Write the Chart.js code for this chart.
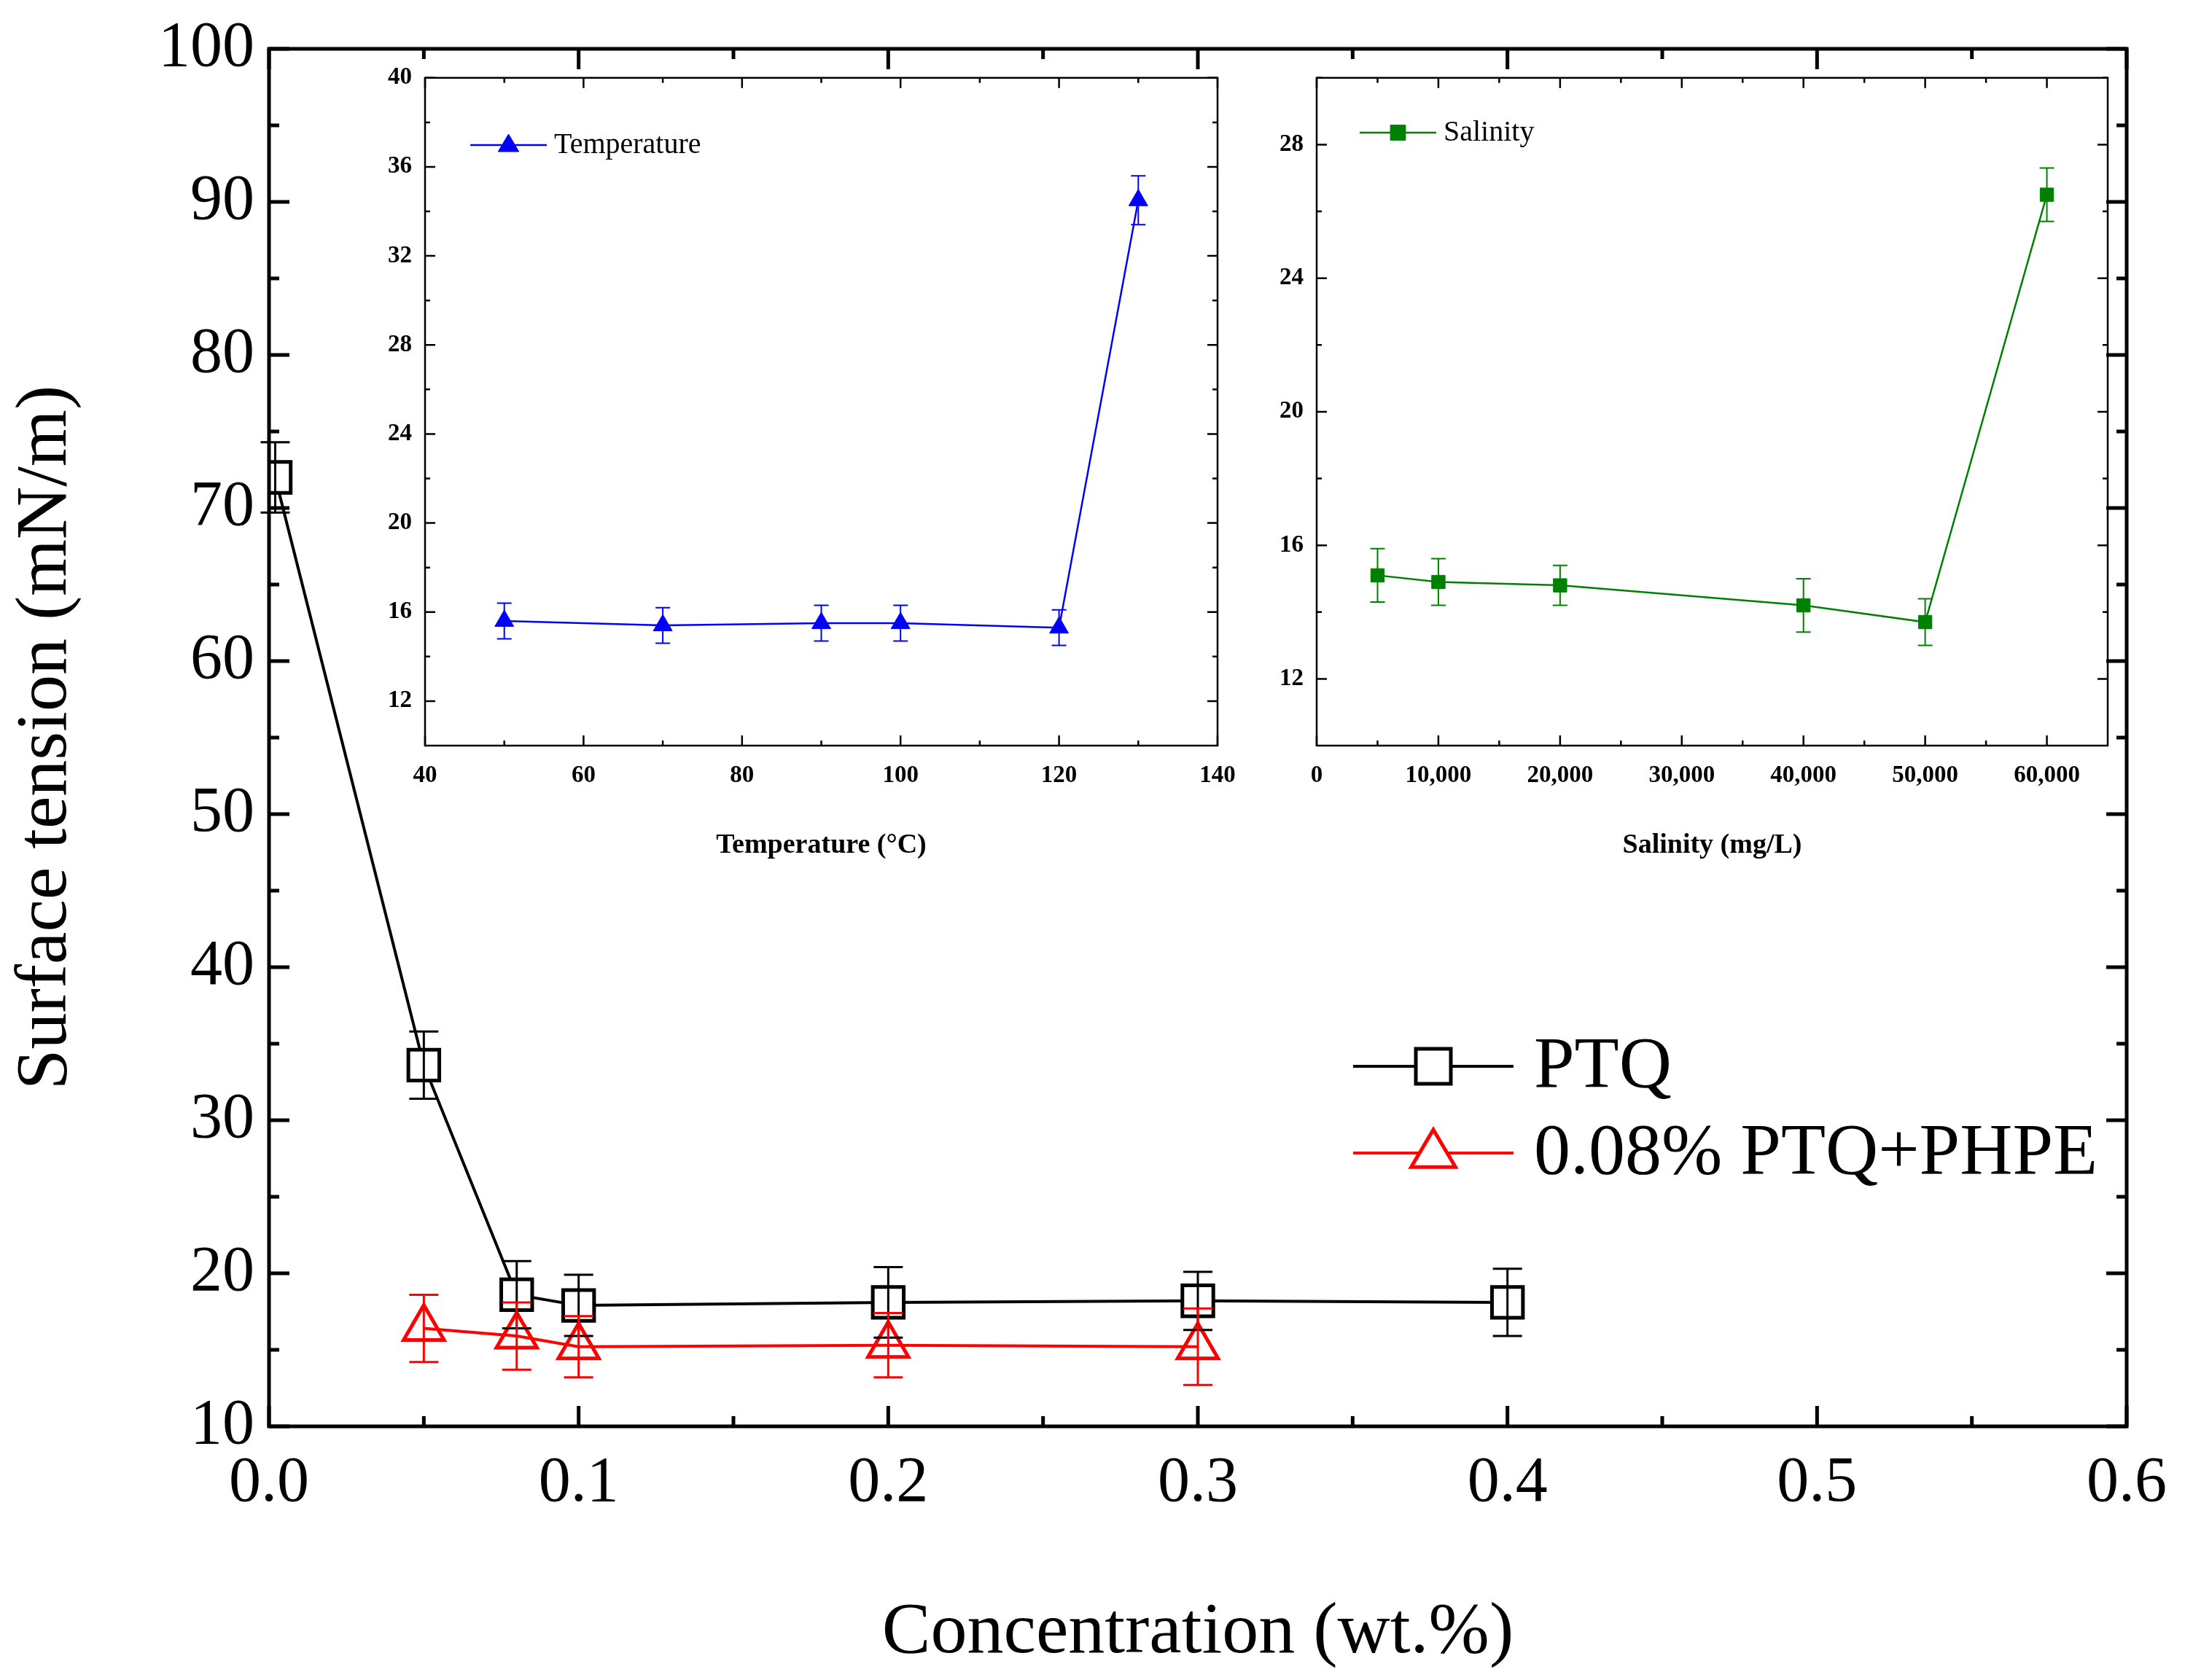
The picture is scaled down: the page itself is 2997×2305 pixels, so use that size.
<!DOCTYPE html>
<html><head><meta charset="utf-8">
<script src="https://cdn.jsdelivr.net/npm/chart.js@4/dist/chart.umd.min.js"></script>
<style>
body{margin:0;background:#fff;width:2997px;height:2305px;position:relative;overflow:hidden}
canvas{position:absolute}
</style></head><body>
<canvas id="main" width="2997" height="2305" style="left:0;top:0"></canvas>
<canvas id="temp" width="1215" height="1110" style="left:507px;top:77px"></canvas>
<canvas id="sal" width="1155" height="1110" style="left:1750px;top:77px"></canvas>
<script>
// main chart data
const concPTQ = [0.002, 0.05, 0.08, 0.1, 0.2, 0.3, 0.4]
const tensionPTQ = [72.0, 33.6, 18.6, 17.9, 18.1, 18.2, 18.1]
const errPTQ = [2.3, 2.2, 2.2, 2.0, 2.3, 1.9, 2.2]
const concMix = [0.05, 0.08, 0.1, 0.2, 0.3]
const tensionMix = [16.4, 15.9, 15.2, 15.3, 15.2]
const errMix = [2.2, 2.2, 2.0, 2.1, 2.5]
// temperature inset
const temps = [50, 70, 90, 100, 120, 130]
const tensionTemp = [15.6, 15.4, 15.5, 15.5, 15.3, 34.5]
const errTemp = [0.8, 0.8, 0.8, 0.8, 0.8, 1.1]
const tempTicksY = [12, 16, 20, 24, 28, 32, 36, 40]
// salinity inset
const salinity = [5000, 10000, 20000, 40000, 50000, 60000]
const tensionSal = [15.1, 14.9, 14.8, 14.2, 13.7, 26.5]
const errSal = [0.8, 0.7, 0.6, 0.8, 0.7, 0.8]
const salTicksY = [12, 16, 20, 24, 28]

const serif = 'Liberation Serif'

const pts = (xs, ys) => xs.map((x, i) => ({x: x, y: ys[i]}))

// frame + inward ticks
const framePlugin = {
    id: 'frame',
    afterDraw(chart, args, o) {
        const {ctx, chartArea: a, scales} = chart
        ctx.save()
        ctx.strokeStyle = '#000'
        ctx.lineWidth = o.width
        ctx.strokeRect(a.left, a.top, a.right - a.left, a.bottom - a.top)
        const xs = scales.x, ys = scales.y
        const tickX = (v, len) => {
            const p = xs.getPixelForValue(v)
            ctx.beginPath(); ctx.moveTo(p, a.bottom); ctx.lineTo(p, a.bottom - len)
            ctx.moveTo(p, a.top); ctx.lineTo(p, a.top + len); ctx.stroke()
        }
        const tickY = (v, len) => {
            const p = ys.getPixelForValue(v)
            ctx.beginPath(); ctx.moveTo(a.left, p); ctx.lineTo(a.left + len, p)
            ctx.moveTo(a.right, p); ctx.lineTo(a.right - len, p); ctx.stroke()
        }
        xs.ticks.forEach(t => tickX(t.value, o.len))
        ys.ticks.forEach(t => tickY(t.value, o.len))
        ;(o.minorX || []).forEach(v => tickX(v, o.len / 2))
        ;(o.minorY || []).forEach(v => tickY(v, o.len / 2))
        ctx.restore()
    }
}

// error bars from dataset.err
const errPlugin = {
    id: 'errbars',
    afterDatasetsDraw(chart, args, o) {
        const {ctx, scales} = chart
        ctx.save()
        chart.data.datasets.forEach(ds => {
            ctx.strokeStyle = ds.borderColor
            ctx.lineWidth = o.width
            ds.data.forEach((p, i) => {
                const x = scales.x.getPixelForValue(p.x)
                const y1 = scales.y.getPixelForValue(p.y + ds.err[i])
                const y2 = scales.y.getPixelForValue(p.y - ds.err[i])
                ctx.beginPath()
                ctx.moveTo(x, y1); ctx.lineTo(x, y2)
                ctx.moveTo(x - o.cap, y1); ctx.lineTo(x + o.cap, y1)
                ctx.moveTo(x - o.cap, y2); ctx.lineTo(x + o.cap, y2)
                ctx.stroke()
            })
        })
        ctx.restore()
    }
}

function marker(ctx, style, x, y, r, color, fill) {
    ctx.beginPath()
    if (style === 'rect') {
        ctx.rect(x - r * 0.8, y - r * 0.8, r * 1.6, r * 1.6)
    } else {
        ctx.moveTo(x, y - r); ctx.lineTo(x + r * 0.95, y + r * 0.6); ctx.lineTo(x - r * 0.95, y + r * 0.6); ctx.closePath()
    }
    if (fill) { ctx.fillStyle = color; ctx.fill() }
    else { ctx.fillStyle = '#fff'; ctx.fill() }
    ctx.strokeStyle = color; ctx.stroke()
}

const legPlugin = {
    id: 'leg',
    afterDraw(chart, args, o) {
        const ctx = chart.ctx
        ctx.save()
        chart.data.datasets.forEach((ds, i) => {
            const y = o.y + i * o.gap
            ctx.strokeStyle = ds.borderColor
            ctx.lineWidth = ds.borderWidth
            ctx.beginPath(); ctx.moveTo(o.x, y); ctx.lineTo(o.x + o.w, y); ctx.stroke()
            ctx.lineWidth = o.mw
            marker(ctx, ds.pointStyle, o.x + o.w / 2, y, ds.pointRadius, ds.borderColor, o.filled)
            ctx.fillStyle = '#000'
            ctx.font = o.font
            ctx.textBaseline = 'middle'
            ctx.fillText(ds.label, o.x + o.w + o.tx, y + o.dy)
        })
        ctx.restore()
    }
}

function fix(w) { return s => { s.width = w } }
function fixH(h) { return s => { s.height = h } }

// main chart
new Chart(document.getElementById('main'), {
    type: 'scatter',
    data: {
        datasets: [{
            label: 'PTQ', data: pts(concPTQ, tensionPTQ), err: errPTQ,
            showLine: true, borderColor: '#000', backgroundColor: '#fff', borderWidth: 4,
            pointStyle: 'rect', pointRadius: 30, pointBorderWidth: 5
        }, {
            label: '0.08% PTQ+PHPE', data: pts(concMix, tensionMix), err: errMix,
            showLine: true, borderColor: '#ff0000', backgroundColor: 'rgba(255,255,255,0)', borderWidth: 4,
            pointStyle: 'triangle', pointRadius: 32, pointBorderWidth: 5
        }]
    },
    options: {
        responsive: false, animation: false, devicePixelRatio: 1,
        layout: {padding: {top: 67, right: 80, left: 0, bottom: 0}},
        plugins: {
            legend: {display: false}, tooltip: {enabled: false},
            frame: {width: 5, len: 28, minorX: [0.05, 0.15, 0.25, 0.35, 0.45, 0.55], minorY: [15, 25, 35, 45, 55, 65, 75, 85, 95]},
            errbars: {width: 3, cap: 20},
            leg: {x: 1856, y: 1463, gap: 119, w: 220, tx: 28, dy: 2, mw: 5, filled: false, font: '100px "Liberation Serif"'}
        },
        scales: {
            x: {type: 'linear', min: 0, max: 0.6, afterFit: fixH(348),
                grid: {display: false}, border: {display: false},
                ticks: {stepSize: 0.1, color: '#000', font: {family: serif, size: 88}, padding: 18, callback: v => v.toFixed(1)},
                title: {display: true, text: 'Concentration (wt.%)', color: '#000', font: {family: serif, size: 100}, padding: {top: 40}}},
            y: {min: 10, max: 100, afterFit: fix(369),
                grid: {display: false}, border: {display: false},
                ticks: {stepSize: 10, color: '#000', font: {family: serif, size: 88}, padding: 12},
                title: {display: true, text: 'Surface tension (mN/m)', color: '#000', font: {family: serif, size: 100}, padding: {bottom: 10}}}
        }
    },
    plugins: [framePlugin, errPlugin, legPlugin]
})

// temperature inset
new Chart(document.getElementById('temp'), {
    type: 'scatter',
    data: {
        datasets: [{
            label: 'Temperature', data: pts(temps, tensionTemp), err: errTemp,
            showLine: true, borderColor: '#0000ff', backgroundColor: '#0000ff', borderWidth: 2.5,
            pointStyle: 'triangle', pointRadius: 15, pointBorderWidth: 1
        }]
    },
    options: {
        responsive: false, animation: false, devicePixelRatio: 1,
        layout: {padding: {top: 28, right: 52, left: 0, bottom: 0}},
        plugins: {
            legend: {display: false}, tooltip: {enabled: false},
            frame: {width: 2.5, len: 14, minorX: [50, 70, 90, 110, 130], minorY: [14, 18, 22, 26, 30, 34, 38]},
            errbars: {width: 2, cap: 10},
            leg: {x: 138, y: 122, gap: 60, w: 105, tx: 10, dy: 0, mw: 1, filled: true, font: '40px "Liberation Serif"'}
        },
        scales: {
            x: {type: 'linear', min: 40, max: 140, afterFit: fixH(164),
                grid: {display: false}, border: {display: false},
                ticks: {stepSize: 20, color: '#000', font: {family: serif, size: 33, weight: 'bold'}, padding: 14},
                title: {display: true, text: 'Temperature (\u00b0C)', color: '#000', font: {family: serif, size: 38, weight: 'bold'}, padding: {top: 22}}},
            y: {min: 10, max: 40, afterFit: fix(76),
                afterBuildTicks: s => { s.ticks = tempTicksY.map(v => ({value: v})) },
                grid: {display: false}, border: {display: false},
                ticks: {color: '#000', font: {family: serif, size: 33, weight: 'bold'}, padding: 10}}
        }
    },
    plugins: [framePlugin, errPlugin, legPlugin]
})

// salinity inset
new Chart(document.getElementById('sal'), {
    type: 'scatter',
    data: {
        datasets: [{
            label: 'Salinity', data: pts(salinity, tensionSal), err: errSal,
            showLine: true, borderColor: '#008000', backgroundColor: '#008000', borderWidth: 2.5,
            pointStyle: 'rect', pointRadius: 13, pointBorderWidth: 1
        }]
    },
    options: {
        responsive: false, animation: false, devicePixelRatio: 1,
        layout: {padding: {top: 21, right: 12, left: 0, bottom: 0}},
        plugins: {
            legend: {display: false}, tooltip: {enabled: false},
            frame: {width: 2.5, len: 14, minorX: [5000, 15000, 25000, 35000, 45000, 55000], minorY: [14, 18, 22, 26, 30]},
            errbars: {width: 2, cap: 10},
            leg: {x: 115, y: 105, gap: 60, w: 105, tx: 10, dy: 0, mw: 1, filled: true, font: '40px "Liberation Serif"'}
        },
        scales: {
            x: {type: 'linear', min: 0, max: 65000, afterFit: fixH(164),
                afterBuildTicks: s => { s.ticks = [0, 10000, 20000, 30000, 40000, 50000, 60000].map(v => ({value: v})) },
                grid: {display: false}, border: {display: false},
                ticks: {color: '#000', font: {family: serif, size: 33, weight: 'bold'}, padding: 14, callback: v => v.toLocaleString('en-US')},
                title: {display: true, text: 'Salinity (mg/L)', color: '#000', font: {family: serif, size: 38, weight: 'bold'}, padding: {top: 22}}},
            y: {min: 10, max: 30, afterFit: fix(56),
                afterBuildTicks: s => { s.ticks = salTicksY.map(v => ({value: v})) },
                grid: {display: false}, border: {display: false},
                ticks: {color: '#000', font: {family: serif, size: 33, weight: 'bold'}, padding: 10}}
        }
    },
    plugins: [framePlugin, errPlugin, legPlugin]
})
</script>
</body></html>
